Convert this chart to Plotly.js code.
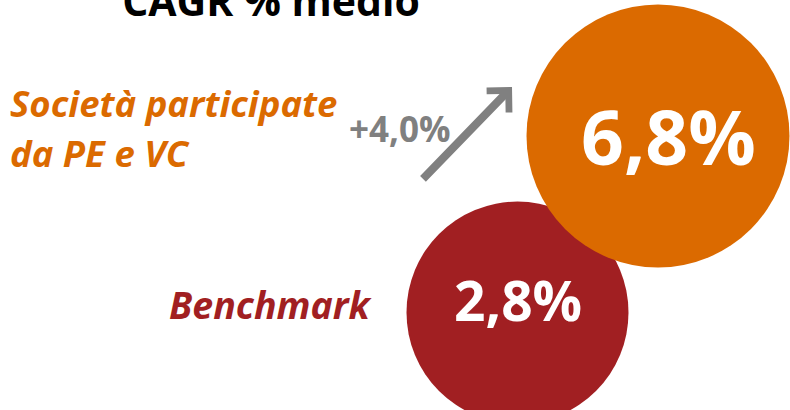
<!DOCTYPE html>
<html>
<head>
<meta charset="utf-8">
<script src="https://cdn.plot.ly/plotly-3.0.1.min.js"></script>
<style>
  html, body { margin: 0; padding: 0; background: #ffffff; }
  #chart { width: 790px; height: 410px; }
</style>
</head>
<body>
<div id="chart"></div>
<script>
// ---- data ----
const chartTitle = "CAGR % medio";
const categories = ["Società participate<br>da PE e VC", "Benchmark"];
const cagrValues = [6.8, 2.8];

// ---- styling / layout (not data) ----
const colors = ["#DB6A00", "#A11F22"];
const FONT = "'Open Sans', 'Noto Sans', sans-serif";
const circleX = [658, 517.5];
const circleY = [136, 312.5];
const circleD = [263, 222];
const valueFont = [75, 55];
const valueY = [136, 299];

function fmt(v, sign) {
  return (sign && v > 0 ? "+" : "") + v.toFixed(1).replace(".", ",") + "%";
}

// draw order: benchmark first so the larger orange bubble sits on top
const order = [1, 0];
const traces = [{
  type: "scatter",
  mode: "markers",
  x: order.map(i => circleX[i]),
  y: order.map(i => circleY[i]),
  marker: {
    size: order.map(i => circleD[i]),
    sizemode: "diameter",
    sizeref: 1,
    color: order.map(i => colors[i]),
    opacity: 1,
    line: { width: 0 }
  },
  hoverinfo: "skip",
  cliponaxis: false,
  showlegend: false
}];

const annotations = [];
// values inside bubbles
cagrValues.forEach((v, i) => {
  annotations.push({
    x: circleX[i] + (i === 0 ? 10 : 0), y: valueY[i], xref: "x", yref: "y",
    text: fmt(v, false), showarrow: false,
    xanchor: "center", yanchor: "middle",
    font: { family: FONT, size: valueFont[i], color: "#ffffff", weight: "bold" }
  });
});
// category labels
const lines0 = categories[0].split("<br>");
const lineY0 = [103, 153];
lines0.forEach((t, k) => {
  annotations.push({
    x: 8, y: lineY0[k], xref: "x", yref: "y", text: t, showarrow: false,
    xanchor: "left", yanchor: "middle",
    font: { family: FONT, size: 36.5, color: colors[0], weight: "bold", style: "italic" }
  });
});
annotations.push({
  x: 375, y: 304, xref: "x", yref: "y", text: categories[1], showarrow: false,
  xanchor: "right", yanchor: "middle",
  font: { family: FONT, size: 37.5, color: colors[1], weight: "bold", style: "italic" }
});
// difference label and arrow
annotations.push({
  x: 400, y: 128, xref: "x", yref: "y",
  text: fmt(cagrValues[0] - cagrValues[1], true), showarrow: false,
  xanchor: "center", yanchor: "middle",
  font: { family: FONT, size: 35, color: "#808080", weight: "bold" }
});
annotations.push({
  x: 512, y: 87, xref: "x", yref: "y",
  ax: 420, ay: 182, axref: "x", ayref: "y",
  text: " ", showarrow: true,
  arrowhead: 4, arrowsize: 0.75, arrowwidth: 8, arrowcolor: "#808080"
});

const layout = {
  width: 790, height: 410,
  margin: { l: 0, r: 0, t: 0, b: 0, pad: 0 },
  paper_bgcolor: "#ffffff", plot_bgcolor: "#ffffff",
  title: {
    text: "<b>" + chartTitle + "</b>",
    x: 271 / 790, xanchor: "center", xref: "paper",
    y: 1 - 2 / 410, yanchor: "middle", yref: "container",
    font: { family: FONT, size: 41, color: "#000000" }
  },
  xaxis: { range: [0, 790], visible: false, fixedrange: true },
  yaxis: { range: [410, 0], visible: false, fixedrange: true },
  annotations: annotations,
  showlegend: false
};

Plotly.newPlot("chart", traces, layout, { staticPlot: true, displayModeBar: false });
</script>
</body>
</html>
